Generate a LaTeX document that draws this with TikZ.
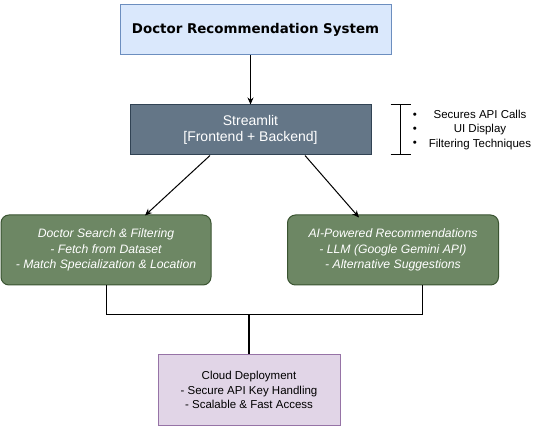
\documentclass[tikz,border=0pt]{standalone}
\usepackage{fontspec}
\setmainfont{Liberation Sans}
\newfontfamily\titlefont{DejaVu Sans}
\usetikzlibrary{positioning,arrows.meta}

\definecolor{titlefill}{HTML}{DAE8FC}
\definecolor{titleline}{HTML}{6C8EBF}
\definecolor{streamfill}{HTML}{647687}
\definecolor{streamline}{HTML}{314354}
\definecolor{greenfill}{HTML}{6D8764}
\definecolor{greenline}{HTML}{3A5431}
\definecolor{cloudfill}{HTML}{E1D5E7}
\definecolor{cloudline}{HTML}{9673A6}

\tikzset{
  box/.style={draw, line width=1pt, inner sep=0pt, align=center},
  greenbox/.style={box, fill=greenfill, draw=greenline, rounded corners=8pt,
    minimum height=70pt, text=white,
    font=\fontsize{12.2}{15.5}\selectfont\itshape},
  arr/.style={line width=1pt, -{Stealth[length=7pt,width=6pt]}},
  wire/.style={line width=1pt}
}

\begin{document}
\begin{tikzpicture}[x=1pt,y=-1pt]
\useasboundingbox (0,0) rectangle (546,427);

\node [box, fill=titlefill, draw=titleline, minimum width=271pt, minimum height=50pt,
  font=\titlefont\bfseries\fontsize{13.4}{17}\selectfont] (sys) at (255.5,30)
  {Doctor Recommendation System};

\node [box, fill=streamfill, draw=streamline, minimum width=241pt, minimum height=50pt,
  text=white, font=\fontsize{14}{16.7}\selectfont] (stream) at (250.5,130)
  {Streamlit\\{[Frontend + Backend]}};

\draw[arr] (sys.south -| stream.north) -- (stream.north);

% bracket with the feature list
\draw[wire] (390.7,105) -- (410.7,105);
\draw[wire] (400.7,105) -- (400.7,155);
\draw[wire] (390.7,155) -- (410.7,155);
\node [font=\fontsize{11.5}{14.3}\selectfont, align=center, inner sep=0pt] (dots) at (415,130)
  {\textbullet\\\textbullet\\\textbullet};
\node [font=\fontsize{11.5}{14.3}\selectfont, align=center, inner sep=0pt] (feats) at (480,130)
  {Secures API Calls\\UI Display\\Filtering Techniques};

\node [greenbox, minimum width=210pt] (search) at (106,250)
  {Doctor Search \& Filtering\\- Fetch from Dataset\\- Match Specialization \& Location};
\node [greenbox, minimum width=211pt] (ai) at (393,250)
  {AI-Powered Recommendations\\- LLM (Google Gemini API)\\- Alternative Suggestions};

\draw[arr] ([xshift=-40.5pt]stream.south) -- ([xshift=39pt,yshift=-1pt]search.north);
\draw[arr] ([xshift=54.5pt]stream.south) -- ([xshift=-34pt,yshift=-3pt]ai.north);

\node [box, fill=cloudfill, draw=cloudline, minimum width=182pt, minimum height=70pt,
  font=\fontsize{11.5}{14.2}\selectfont] (cloud) at (249,390)
  {Cloud Deployment\\- Secure API Key Handling\\- Scalable \& Fast Access};

\coordinate (joinL) at (106,315);
\coordinate (joinR) at (422,315);
\coordinate (join) at (249,315);
\draw[wire] (search.south) -- (joinL) -- (joinR) -- (joinR |- ai.south);
\draw[line width=2pt] (join) -- (cloud.north);

\end{tikzpicture}
\end{document}
